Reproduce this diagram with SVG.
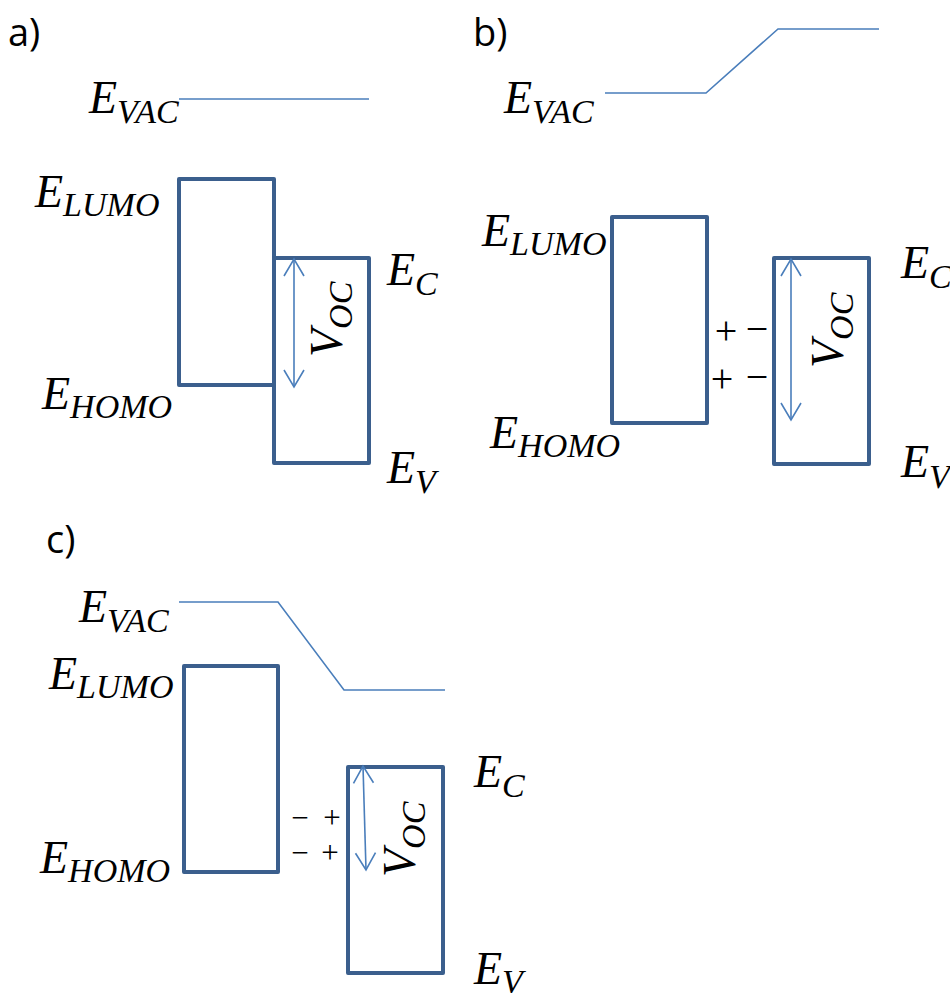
<svg xmlns="http://www.w3.org/2000/svg" width="950" height="993" viewBox="0 0 950 993">
<style>
.box{fill:none;stroke:#3b5f8d;stroke-width:4;stroke-linejoin:round}
.vac{fill:none;stroke:#4a7ebb;stroke-width:1.6}
.arr{fill:none;stroke:#4a7ebb;stroke-width:1.6;marker-start:url(#ah);marker-end:url(#ah)}
.m{font-family:"Liberation Serif","DejaVu Serif",serif;font-style:italic;font-size:46px;fill:#000}
.s{font-size:34px}
.pm{font-family:"Liberation Serif","DejaVu Serif",serif;font-size:40px;fill:#000;text-anchor:middle}
.pmc{font-size:31px}
.lbl{font-family:"Open Sans","Liberation Sans",sans-serif;font-size:38px;fill:#000}
</style>
<defs>
<marker id="ah" markerUnits="userSpaceOnUse" markerWidth="30" markerHeight="30" viewBox="-20 -15 30 30" refX="0" refY="0" orient="auto-start-reverse">
<path d="M-17,-10 L0,0 L-17,10" fill="none" stroke="#4a7ebb" stroke-width="1.6"/>
</marker>
</defs>
<rect width="950" height="993" fill="#fff"/>

<!-- Panel a -->
<g id="panel-a">
<text class="lbl" x="8" y="46">a)</text>
<g id="a-vac"><text class="m" x="89" y="113">E<tspan class="s" dy="10">VAC</tspan></text></g>
<g id="a-donor"><rect class="box" x="179" y="179" width="95" height="206"/></g>
<g id="a-acceptor"><rect class="box" x="274" y="258" width="95" height="205"/></g>
<g id="a-elumo"><text class="m" x="35" y="207">E<tspan class="s" dy="9">LUMO</tspan></text></g>
<g id="a-ehomo"><text class="m" x="42" y="409">E<tspan class="s" dy="9">HOMO</tspan></text></g>
<g id="a-ec"><text class="m" x="387" y="285">E<tspan class="s" dy="10">C</tspan></text></g>
<g id="a-ev"><text class="m" x="387" y="483">E<tspan class="s" dy="10">V</tspan></text></g>
<g id="a-voc"><text class="m" transform="translate(342,357) rotate(-90)">V<tspan class="s" dy="10">OC</tspan></text></g>
</g>

<!-- Panel b -->
<g id="panel-b">
<text class="lbl" x="473" y="46">b)</text>
<g id="b-vac"><text class="m" x="504" y="113">E<tspan class="s" dy="10">VAC</tspan></text></g>
<g id="b-donor"><rect class="box" x="612" y="217" width="95" height="206"/></g>
<g id="b-acceptor"><rect class="box" x="774" y="258" width="95" height="206"/></g>
<g id="b-elumo"><text class="m" x="482" y="246">E<tspan class="s" dy="9">LUMO</tspan></text></g>
<g id="b-ehomo"><text class="m" x="490" y="448">E<tspan class="s" dy="9">HOMO</tspan></text></g>
<g id="b-ec"><text class="m" x="901" y="278">E<tspan class="s" dy="10">C</tspan></text></g>
<g id="b-ev"><text class="m" x="901" y="477">E<tspan class="s" dy="11">V</tspan></text></g>
<g id="b-voc"><text class="m" transform="translate(843,368) rotate(-90)">V<tspan class="s" dy="10">OC</tspan></text></g>
<g id="b-charges">
<text class="pm"><tspan x="726" y="344">+</tspan><tspan x="757" y="342">−</tspan><tspan x="722" y="392">+</tspan><tspan x="757" y="390">−</tspan></text>
</g>
</g>

<!-- Panel c -->
<g id="panel-c">
<text class="lbl" x="46" y="553">c)</text>
<g id="c-vac"><text class="m" x="79" y="622">E<tspan class="s" dy="10">VAC</tspan></text></g>
<g id="c-donor"><rect class="box" x="184" y="666" width="94" height="206"/></g>
<g id="c-acceptor"><rect class="box" x="348" y="767" width="95" height="206"/></g>
<g id="c-elumo"><text class="m" x="49" y="689">E<tspan class="s" dy="9">LUMO</tspan></text></g>
<g id="c-ehomo"><text class="m" x="40" y="873">E<tspan class="s" dy="9">HOMO</tspan></text></g>
<g id="c-ec"><text class="m" x="474" y="787">E<tspan class="s" dy="10">C</tspan></text></g>
<g id="c-ev"><text class="m" x="474" y="984">E<tspan class="s" dy="9">V</tspan></text></g>
<g id="c-voc"><text class="m" transform="translate(415,877) rotate(-90)">V<tspan class="s" dy="10">OC</tspan></text></g>
<g id="c-charges">
<text class="pm pmc"><tspan x="300" y="828">−</tspan><tspan x="332" y="828">+</tspan><tspan x="300" y="863">−</tspan><tspan x="330" y="863">+</tspan></text>
</g>
</g>

<g id="connectors">
<polyline class="vac" points="179,99 369,99"/>
<polyline class="vac" points="605,93 706,93 778,29 879,29"/>
<polyline class="vac" points="179,602 278,602 344,690 445,690"/>
<line class="arr" x1="294" y1="259" x2="294" y2="387"/>
<line class="arr" x1="791" y1="259" x2="791" y2="420"/>
<line class="arr" x1="363" y1="766" x2="366" y2="870"/>
</g>
</svg>
